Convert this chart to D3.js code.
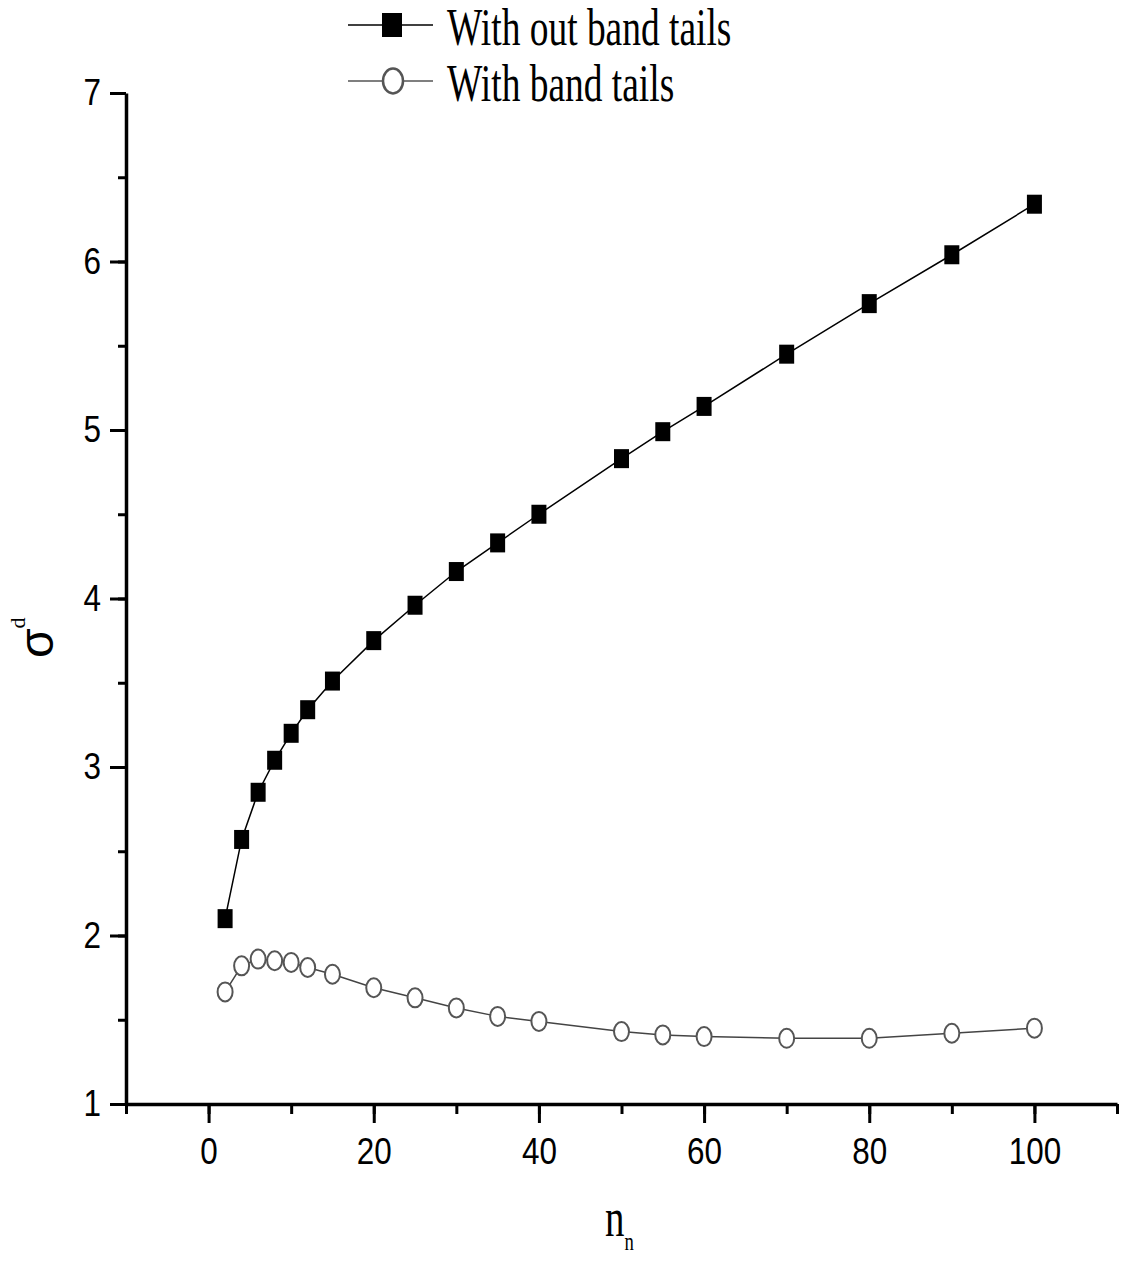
<!DOCTYPE html>
<html>
<head>
<meta charset="utf-8">
<script src="https://cdn.jsdelivr.net/npm/d3@7"></script>
<style>
  body { margin: 0; background: #fff; }
</style>
</head>
<body>
<svg id="chart" width="1124" height="1264"></svg>
<script>
const nValues = [2, 4, 6, 8, 10, 12, 15, 20, 25, 30, 35, 40, 50, 55, 60, 70, 80, 90, 100];
const withoutTails = [2.10, 2.57, 2.85, 3.04, 3.20, 3.34, 3.51, 3.75, 3.96, 4.16, 4.33, 4.50, 4.83, 4.99, 5.14, 5.45, 5.75, 6.04, 6.34];
const withTails = [1.665, 1.82, 1.86, 1.85, 1.84, 1.81, 1.77, 1.69, 1.63, 1.57, 1.52, 1.49, 1.43, 1.41, 1.40, 1.39, 1.39, 1.42, 1.45];
const xTicks = [0, 20, 40, 60, 80, 100];
const yTicks = [1, 2, 3, 4, 5, 6, 7];
const legendLabels = ["With out band tails", "With band tails"];

const svg = d3.select("#chart");
const plotLeft = 126, plotRight = 1117, plotTop = 93, plotBottom = 1104;
const sansFont = "'Liberation Sans', Arial, sans-serif";
const serifFont = "'Liberation Serif', 'Times New Roman', serif";

const x = d3.scaleLinear().domain([-10, 110]).range([plotLeft, plotRight]);
const y = d3.scaleLinear().domain([1, 7]).range([plotBottom, plotTop]);

// minor ticks (shorter), drawn under the major axes
svg.append("g")
  .attr("transform", `translate(0,${plotBottom})`)
  .call(d3.axisBottom(x).tickValues(d3.range(-10, 111, 10)).tickSize(10).tickFormat(""))
  .call(g => g.select(".domain").remove())
  .selectAll("line").attr("stroke-width", 3);

svg.append("g")
  .attr("transform", `translate(${plotLeft},0)`)
  .call(d3.axisLeft(y).tickValues(d3.range(1, 7.01, 0.5)).tickSize(8).tickFormat(""))
  .call(g => g.select(".domain").remove())
  .selectAll("line").attr("stroke-width", 3);

const xAxis = svg.append("g")
  .attr("transform", `translate(0,${plotBottom})`)
  .call(d3.axisBottom(x).tickValues(xTicks).tickSize(19).tickPadding(15).tickSizeOuter(0));
xAxis.select(".domain").attr("stroke-width", 3.5);
xAxis.selectAll("line").attr("stroke-width", 3);
xAxis.selectAll("text")
  .attr("font-family", sansFont).attr("font-size", 37).attr("fill", "#000")
  .attr("transform", "scale(0.85,1)");

const yAxis = svg.append("g")
  .attr("transform", `translate(${plotLeft},0)`)
  .call(d3.axisLeft(y).tickValues(yTicks).tickFormat(d3.format("d"))
    .tickSize(16).tickPadding(9).tickSizeOuter(0));
yAxis.select(".domain").attr("stroke-width", 3.5);
yAxis.selectAll("line").attr("stroke-width", 3);
yAxis.selectAll("text")
  .attr("font-family", sansFont).attr("font-size", 37).attr("fill", "#000")
  .attr("x", -25 / 0.85)
  .attr("transform", "scale(0.85,1)");

// series
const line = d3.line().x(d => x(d[0])).y(d => y(d[1]));
const sq = nValues.map((n, i) => [n, withoutTails[i]]);
const ci = nValues.map((n, i) => [n, withTails[i]]);

svg.append("path").datum(sq).attr("d", line)
  .attr("fill", "none").attr("stroke", "#000").attr("stroke-width", 1.5);
svg.append("path").datum(ci).attr("d", line)
  .attr("fill", "none").attr("stroke", "#444").attr("stroke-width", 1.5);

svg.selectAll("rect.sq").data(sq).join("rect")
  .attr("class", "sq")
  .attr("x", d => x(d[0]) - 7.5).attr("y", d => y(d[1]) - 9.5)
  .attr("width", 15).attr("height", 19).attr("fill", "#000");

svg.selectAll("ellipse.ci").data(ci).join("ellipse")
  .attr("class", "ci")
  .attr("cx", d => x(d[0])).attr("cy", d => y(d[1]))
  .attr("rx", 7.5).attr("ry", 9.5)
  .attr("fill", "#fff").attr("stroke", "#555").attr("stroke-width", 2);

// legend
const legendRows = [25, 81];
legendLabels.forEach((label, i) => {
  const g = svg.append("g").attr("transform", `translate(0,${legendRows[i]})`);
  g.append("line").attr("x1", 348).attr("x2", 433).attr("y1", 0).attr("y2", 0)
    .attr("stroke", i === 0 ? "#000" : "#555").attr("stroke-width", 1.5);
  if (i === 0) {
    g.append("rect").attr("x", 382).attr("y", -12).attr("width", 20).attr("height", 24).attr("fill", "#000");
  } else {
    g.append("ellipse").attr("cx", 393).attr("cy", 0).attr("rx", 10).attr("ry", 12.5)
      .attr("fill", "#fff").attr("stroke", "#555").attr("stroke-width", 2.5);
  }
  g.append("text")
    .attr("transform", "translate(447,20) scale(0.72,1)")
    .attr("font-family", serifFont).attr("font-size", 52).attr("fill", "#000")
    .text(label);
});

// axis titles
const yt = svg.append("text")
  .attr("transform", "translate(53,658) rotate(-90)")
  .attr("fill", "#000");
yt.append("tspan").attr("font-family", sansFont).attr("font-size", 48).text("σ");
yt.append("tspan").attr("font-family", serifFont).attr("font-size", 22).attr("dy", -28).text("d");

const xt = svg.append("text")
  .attr("transform", "translate(605,1236) scale(0.72,1)")
  .attr("font-family", serifFont).attr("fill", "#000");
xt.append("tspan").attr("font-size", 54).text("n");
xt.append("tspan").attr("font-size", 26).attr("dy", 14).text("n");
</script>
</body>
</html>
